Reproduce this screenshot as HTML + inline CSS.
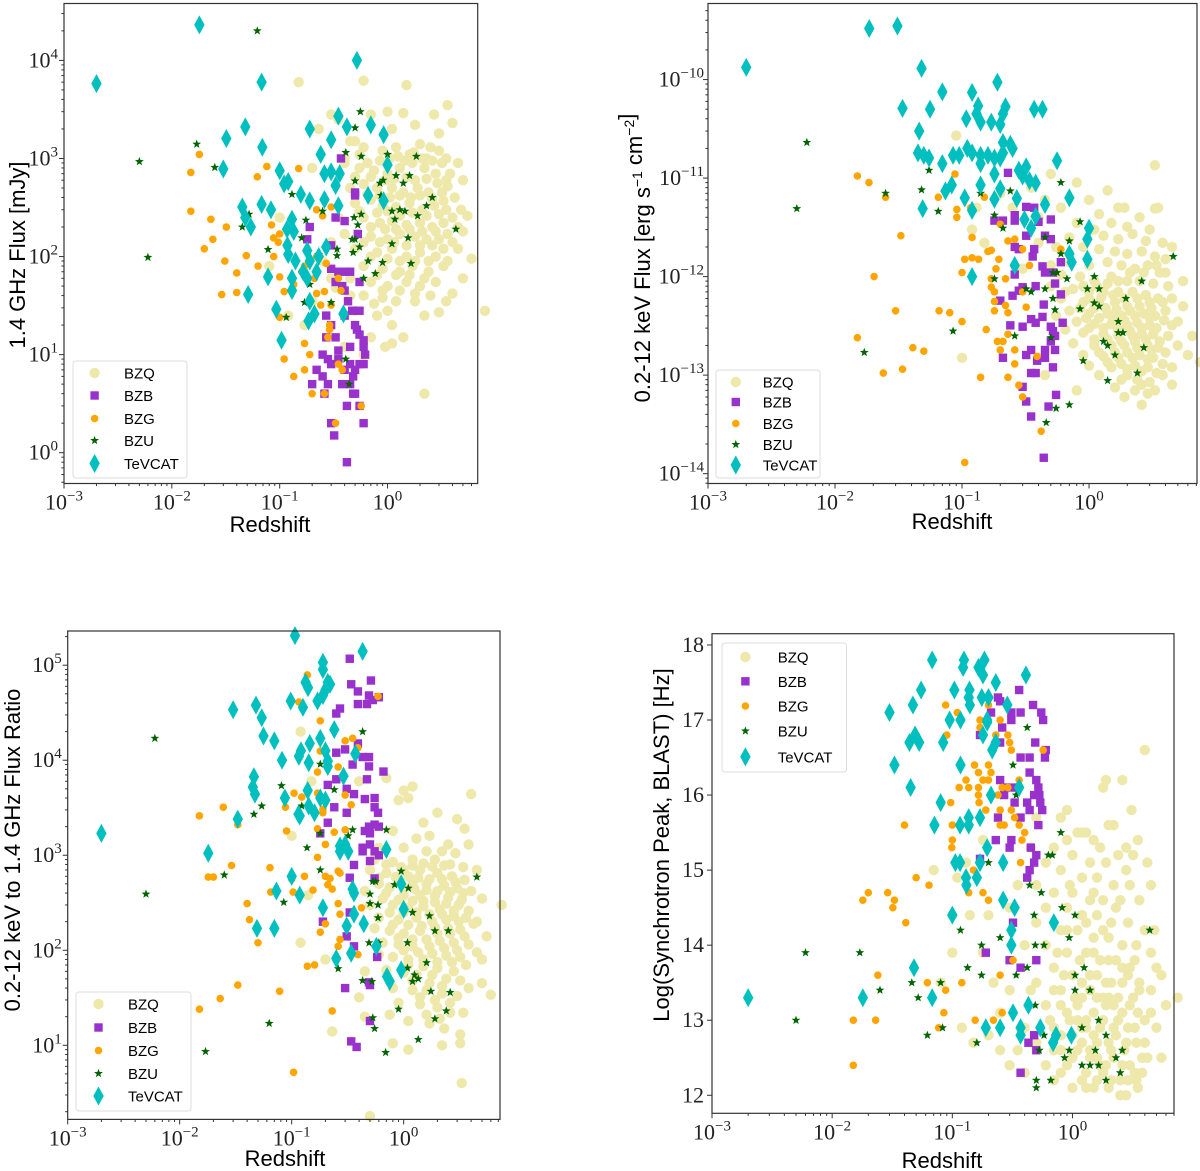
<!DOCTYPE html>
<html><head><meta charset="utf-8"><style>
html,body{margin:0;padding:0;background:#fff;}
svg{display:block;}
.tk{font-family:"Liberation Serif",serif;font-size:22px;fill:#222;}
.al{font-family:"Liberation Sans",sans-serif;font-size:22px;fill:#000;}
.lg{font-family:"Liberation Sans",sans-serif;font-size:15px;fill:#000;}
</style></head><body>
<svg id="fig" width="1200" height="1171" viewBox="0 0 1200 1171" xmlns="http://www.w3.org/2000/svg"></svg>
<script>
// ---------- DATA ----------
const p1_bzq=[[0.3,2800],[0.35,2500],[0.5,1500],[0.6,6200],[0.15,6000],[1.5,5600],[3.6,3500],[2.7,2800],[1.4,2900],[0.7,2800],[1.1,2000],[1.8,2200],[3.0,1800],[4.0,2300],[0.45,1500],[0.6,1300],[0.9,1200],[1.2,1300],[1.6,1100],[2.0,1400],[2.5,1300],[3.0,1200],[3.5,1000],[4.5,900],[0.4,900],[0.55,800],[0.75,750],[1.0,700],[1.3,800],[1.7,900],[2.2,800],[2.8,700],[3.8,700],[5.0,600],[0.45,500],[0.6,550],[0.8,500],[1.1,500],[1.4,450],[1.9,500],[2.4,450],[3.2,450],[4.2,400],[0.5,350],[0.7,380],[0.9,330],[1.2,320],[1.6,350],[2.1,300],[2.7,330],[3.5,300],[5.5,260],[0.35,250],[0.6,250],[0.85,220],[1.1,230],[1.5,210],[2.0,220],[2.6,200],[3.3,220],[4.5,200],[0.4,170],[0.7,160],[1.0,150],[1.3,170],[1.8,160],[2.3,150],[3.0,150],[4.0,140],[0.5,120],[0.8,110],[1.1,120],[1.5,100],[2.0,110],[2.8,100],[3.6,90],[6.0,95],[0.6,80],[0.9,75],[1.3,70],[1.7,80],[2.4,70],[3.3,80],[0.45,60],[0.7,55],[1.0,50],[1.5,55],[2.0,50],[2.8,55],[4.0,42],[0.6,40],[0.9,38],[1.2,35],[1.8,35],[3.0,27],[8.0,28],[0.5,28],[0.8,25],[1.1,20],[1.4,15],[2.2,25],[0.7,15],[0.95,12],[1.1,13],[0.6,10],[2.2,4],[0.1,250],[0.3,140],[0.25,90],[0.3,60],[0.33,48],[0.12,25],[0.17,20],[0.08,80],[0.2,800],[0.23,2000],[0.4,1000],[2.3,1000],[3.5,600],[4.8,300],[1.0,3000],[0.2,35],[0.35,9],[0.4,12],
[0.55,1100],[0.65,900],[0.85,950],[1.05,1000],[1.25,1050],[1.45,950],[1.75,1150],[2.1,1000],[2.6,950],[3.2,900],[0.5,650],[0.7,650],[0.95,600],[1.15,620],[1.5,640],[1.8,600],[2.3,620],[2.9,560],[3.6,520],[0.65,430],[0.85,420],[1.05,400],[1.3,420],[1.65,400],[2.0,420],[2.6,390],[3.3,370],[0.55,290],[0.8,280],[1.0,290],[1.3,260],[1.7,280],[2.3,260],[3.0,270],[4.0,250],[0.7,200],[0.95,190],[1.2,190],[1.6,190],[2.1,180],[2.8,180],[3.6,170],[0.6,140],[0.85,140],[1.15,140],[1.5,130],[2.0,130],[2.6,130],[3.3,120],[0.7,100],[1.0,95],[1.3,90],[1.8,90],[2.4,90],[0.8,65],[1.2,65],[1.6,65],[2.2,60],[0.9,45],[1.3,45],[1.8,42],[2.5,40],[3.5,35],[0.75,33],[1.0,28],[5.0,60],[4.5,120],[5.0,180],[0.45,40],[0.4,25]];
const p1_bzb=[[0.37,1000],[0.5,450],[0.5,420],[0.33,250],[0.4,230],[0.53,170],[0.19,200],[0.18,150],[0.3,130],[0.3,75],[0.35,70],[0.4,70],[0.45,70],[0.33,55],[0.38,50],[0.4,45],[0.55,55],[0.43,35],[0.47,28],[0.55,28],[0.27,25],[0.4,25],[0.5,20],[0.52,18],[0.3,20],[0.27,15],[0.33,15],[0.55,16],[0.6,14],[0.35,11],[0.45,12],[0.6,12],[0.25,10],[0.28,9],[0.3,8],[0.4,7],[0.45,8],[0.55,8],[0.6,8],[0.5,7],[0.22,7],[0.25,6],[0.2,5],[0.28,5],[0.38,5],[0.45,5],[0.48,4],[0.26,4],[0.5,4],[0.42,3],[0.55,3],[0.3,2],[0.6,2],[0.32,1.5],[0.42,0.8],[0.48,6],[0.35,9],[0.62,10]];
const p1_bzg=[[0.018,1100],[0.015,720],[0.076,830],[0.062,650],[0.15,790],[0.015,290],[0.023,240],[0.032,200],[0.024,150],[0.02,120],[0.031,90],[0.04,68],[0.029,41],[0.04,43],[0.049,102],[0.063,80],[0.084,210],[0.088,155],[0.097,140],[0.088,100],[0.10,170],[0.10,62],[0.11,44],[0.13,44],[0.135,52],[0.16,70],[0.17,80],[0.22,300],[0.25,260],[0.3,320],[0.22,100],[0.27,85],[0.21,60],[0.22,42],[0.26,44],[0.24,32],[0.3,32],[0.35,60],[0.37,45],[0.29,20],[0.29,18],[0.28,15],[0.17,13],[0.1,24],[0.19,10],[0.11,9],[0.17,7],[0.135,6],[0.2,4],[0.26,4],[0.33,2],[0.35,8],[0.38,7],[0.57,3]];
const p1_bzu=[[0.062,20000],[0.005,930],[0.006,98],[0.017,1400],[0.025,810],[0.052,270],[0.045,200],[0.078,118],[0.13,430],[0.175,235],[0.16,155],[0.25,290],[0.34,119],[0.34,102],[0.19,52],[0.17,34],[0.115,24],[0.3,34],[0.23,105],[0.41,1150],[0.57,1050],[0.56,3000],[0.5,2050],[0.5,590],[0.49,250],[0.57,270],[0.53,210],[0.47,150],[0.5,150],[0.55,125],[0.48,110],[0.66,90],[0.6,60],[0.77,67],[0.9,87],[0.91,600],[0.85,560],[0.87,420],[1.0,1100],[1.1,290],[1.2,670],[1.4,560],[1.6,670],[1.85,1050],[1.3,300],[1.45,290],[1.17,240],[1.9,260],[2.3,330],[2.6,400],[1.1,135],[1.55,155],[1.65,85],[4.3,190],[0.41,9],[0.44,5]];
const p1_tev=[[0.002,5800],[0.018,23000],[0.52,10000],[0.068,6000],[0.032,1600],[0.048,2100],[0.069,1300],[0.030,780],[0.19,2000],[0.35,2700],[0.42,2100],[0.70,2200],[0.92,1750],[0.30,1550],[0.24,1100],[1.0,860],[0.1,750],[0.11,550],[0.12,580],[0.157,430],[0.19,370],[0.26,380],[0.26,700],[0.30,730],[0.36,700],[0.33,530],[0.35,330],[0.66,420],[0.92,370],[0.045,320],[0.048,250],[0.054,200],[0.068,340],[0.083,300],[0.13,240],[0.117,190],[0.135,180],[0.118,130],[0.12,105],[0.14,90],[0.18,115],[0.19,90],[0.23,100],[0.27,125],[0.13,60],[0.165,70],[0.18,60],[0.22,70],[0.078,62],[0.051,41],[0.093,29],[0.13,45],[0.19,35],[0.185,22],[0.21,26],[0.39,26],[0.104,14]];

const p2_bzq=[[0.09,2.7e-11],[3.3,1.35e-11],[0.8,9e-12],[0.5,1.1e-11],[1.4,7.5e-12],[1.0,6e-12],[1.7,5e-12],[1.9,5e-12],[3.5,5e-12],[3.3,4.9e-12],[0.6,5e-12],[1.2,4.3e-12],[0.4,4e-12],[0.8,3.5e-12],[1.1,3e-12],[1.5,3.5e-12],[2.0,3.2e-12],[2.5,4e-12],[3.0,3e-12],[0.7,2.5e-12],[1.3,2.6e-12],[1.7,2.4e-12],[2.2,2.7e-12],[2.8,2.3e-12],[3.8,2.2e-12],[4.5,2e-12],[0.55,2e-12],[0.9,2e-12],[1.2,1.9e-12],[1.6,1.8e-12],[2.0,1.7e-12],[2.6,1.8e-12],[3.3,1.6e-12],[4.0,1.5e-12],[0.7,1.4e-12],[1.0,1.3e-12],[1.4,1.4e-12],[1.8,1.3e-12],[2.3,1.2e-12],[2.9,1.3e-12],[3.6,1.1e-12],[0.6,1.05e-12],[0.85,1e-12],[1.1,9e-13],[1.5,1e-12],[2.0,9e-13],[2.5,9e-13],[3.2,8.5e-13],[4.2,8e-13],[0.5,8e-13],[0.75,7.5e-13],[1.0,7e-13],[1.3,7e-13],[1.7,7e-13],[2.2,7e-13],[2.8,6.5e-13],[3.5,6e-13],[0.6,6e-13],[0.9,5.5e-13],[1.2,5.5e-13],[1.6,5.5e-13],[2.0,5e-13],[2.5,5e-13],[3.1,4.8e-13],[4.0,4.5e-13],[0.7,4.5e-13],[1.0,4.2e-13],[1.4,4.2e-13],[1.8,4e-13],[2.3,4e-13],[3.0,3.8e-13],[0.8,3.5e-13],[1.1,3.3e-13],[1.5,3.3e-13],[2.0,3.2e-13],[2.6,3e-13],[3.4,3e-13],[4.5,3.2e-13],[0.65,2.9e-13],[0.9,2.7e-13],[1.3,2.6e-13],[1.7,2.5e-13],[2.2,2.5e-13],[2.8,2.3e-13],[3.6,2.2e-13],[0.75,2.1e-13],[1.1,2e-13],[1.5,2e-13],[1.9,2e-13],[2.4,1.9e-13],[3.1,1.8e-13],[4.0,1.7e-13],[5.0,2e-13],[0.9,1.6e-13],[1.3,1.55e-13],[1.7,1.5e-13],[2.2,1.5e-13],[2.9,1.45e-13],[3.8,1.3e-13],[6.0,1.6e-13],[7.5,1.35e-13],[1.0,1.25e-13],[1.5,1.2e-13],[2.0,1.15e-13],[2.6,1.1e-13],[3.4,1.05e-13],[1.2,1e-13],[1.8,9e-14],[2.4,9e-14],[3.0,8.5e-14],[4.5,8e-14],[1.6,7.5e-14],[2.3,7e-14],[2.9,6.5e-14],[0.8,7e-14],[2.6,5e-14],[1.9,6e-14],[0.12,3e-12],[0.15,2.2e-12],[0.2,7e-12],[0.25,5e-12],[0.3,1.2e-11],[0.35,8e-12],[0.45,6e-12],[0.13,5e-12],[0.1,1.5e-13],[0.3,1.2e-12],[0.4,2.2e-12],[0.5,1.3e-12],[0.55,4e-13],[0.45,1e-13],[5.5,5e-13],[6.5,2.5e-13],
[0.9,8e-13],[1.15,8e-13],[1.4,8.5e-13],[1.7,9e-13],[2.1,1.1e-12],[2.7,1.1e-12],[3.4,1.3e-12],[1.0,6e-13],[1.25,6.2e-13],[1.55,6.5e-13],[1.9,6e-13],[2.4,6e-13],[3.0,5.5e-13],[3.8,5.5e-13],[0.85,4.8e-13],[1.1,4.8e-13],[1.35,4.8e-13],[1.65,4.6e-13],[2.1,4.5e-13],[2.7,4.2e-13],[3.3,4e-13],[0.95,3.8e-13],[1.2,3.8e-13],[1.55,3.7e-13],[1.9,3.6e-13],[2.4,3.4e-13],[3.0,3.2e-13],[3.9,3.6e-13],[1.0,3e-13],[1.3,3e-13],[1.7,2.9e-13],[2.1,2.8e-13],[2.6,2.6e-13],[3.2,2.6e-13],[4.2,2.5e-13],[1.1,2.3e-13],[1.4,2.3e-13],[1.8,2.2e-13],[2.3,2.2e-13],[2.9,2e-13],[3.5,1.9e-13],[1.2,1.7e-13],[1.6,1.7e-13],[2.0,1.7e-13],[2.5,1.6e-13],[3.2,1.5e-13],[1.4,1.35e-13],[1.8,1.3e-13],[2.3,1.25e-13],[2.9,1.2e-13],[3.8,1e-13],[2.0,1e-13],[2.6,8e-14],[3.3,7e-14],[4.5,1.2e-13],[5.0,3.5e-13],[4.5,6e-13],[5.5,9e-13],[4.0,1.1e-12],[0.7,1.7e-12],[0.65,7e-13]];
const p2_bzb=[[0.23,1.13e-11],[0.32,5.1e-12],[0.37,5e-12],[0.18,3.7e-12],[0.21,3.7e-12],[0.26,4.2e-12],[0.26,3.7e-12],[0.4,3.6e-12],[0.5,3.8e-12],[0.32,2.6e-12],[0.45,2.6e-12],[0.5,2.4e-12],[0.26,2e-12],[0.28,1.9e-12],[0.37,1.9e-12],[0.36,1.6e-12],[0.6,1.4e-12],[0.43,1.27e-12],[0.45,1.1e-12],[0.52,1.1e-12],[0.26,1.05e-12],[0.54,8.5e-13],[0.38,8e-13],[0.3,7.8e-13],[0.28,7.2e-13],[0.25,6.4e-13],[0.2,5.7e-13],[0.6,6.6e-13],[0.44,5.2e-13],[0.43,3.9e-13],[0.35,3.7e-13],[0.24,3.2e-13],[0.3,3.1e-13],[0.38,3.4e-13],[0.62,3.4e-13],[0.5,3.1e-13],[0.52,2.8e-13],[0.54,2.5e-13],[0.5,2.2e-13],[0.35,1.8e-13],[0.45,1.8e-13],[0.54,1.8e-13],[0.32,1.6e-13],[0.21,1.5e-13],[0.39,1.4e-13],[0.45,1.5e-13],[0.52,1.2e-13],[0.35,1.05e-13],[0.38,1.05e-13],[0.3,7.6e-14],[0.32,5.4e-14],[0.55,6.3e-14],[0.48,4.8e-14],[0.35,3.8e-14],[0.44,1.45e-14]];
const p2_bzg=[[0.015,1.05e-11],[0.0185,9e-12],[0.025,6.4e-12],[0.033,2.6e-12],[0.0203,1e-12],[0.015,2.4e-13],[0.03,4.5e-13],[0.041,1.9e-13],[0.05,1.75e-13],[0.024,1.05e-13],[0.034,1.15e-13],[0.066,4.5e-13],[0.08,4.3e-13],[0.1,3.5e-13],[0.065,6.4e-12],[0.088,1.1e-11],[0.091,4.8e-12],[0.091,4e-12],[0.117,5e-12],[0.12,2.5e-12],[0.105,1.5e-12],[0.12,1.55e-12],[0.135,1.5e-12],[0.1,1.1e-12],[0.16,1.8e-12],[0.17,1.85e-12],[0.195,1.5e-12],[0.185,1.2e-12],[0.17,9.5e-13],[0.17,7.8e-13],[0.18,7e-13],[0.18,5.6e-13],[0.18,4.5e-13],[0.19,2.2e-13],[0.21,2.2e-13],[0.2,1.8e-13],[0.22,9.5e-13],[0.22,5.1e-13],[0.23,4.3e-13],[0.23,2.6e-13],[0.26,1.8e-13],[0.26,1.3e-13],[0.23,9.5e-14],[0.28,7.9e-14],[0.3,6e-14],[0.2,3.4e-12],[0.23,2.3e-12],[0.26,2.4e-12],[0.3,1.9e-12],[0.3,7e-13],[0.32,4.9e-13],[0.34,1.3e-12],[0.39,1.55e-13],[0.42,2.7e-14],[0.105,1.3e-14],[0.14,9.5e-14],[0.155,2.9e-13],[0.6,1.9e-12],[0.15,6.4e-12]];
const p2_bzu=[[0.005,4.9e-12],[0.006,2.3e-11],[0.025,7e-12],[0.017,1.7e-13],[0.055,1.2e-11],[0.048,7.6e-12],[0.065,4.6e-12],[0.085,2.8e-13],[0.14,7e-12],[0.18,4.2e-12],[0.21,3.1e-12],[0.24,7.4e-12],[0.18,9.5e-13],[0.26,2.5e-13],[0.32,7.5e-13],[0.35,7e-13],[0.45,7.5e-13],[0.45,2.5e-12],[0.52,1.1e-12],[0.56,1.1e-12],[0.6,9e-12],[0.6,1.7e-12],[0.67,9.5e-13],[0.7,2.3e-12],[0.85,3.6e-12],[0.52,6e-13],[0.54,4.6e-13],[0.5,2.4e-13],[0.85,4.7e-13],[0.9,1.4e-13],[0.97,7.5e-13],[1.1,1e-12],[1.2,7.5e-13],[1.1,5.4e-13],[1.2,5e-13],[1.3,2.2e-13],[1.4,2e-13],[1.6,1.6e-13],[1.7,3.5e-13],[1.7,2.7e-13],[1.85,2.7e-13],[1.95,6e-13],[2.6,9e-13],[2.7,1.9e-13],[2.4,1.05e-13],[1.4,8.8e-14],[4.6,1.6e-12],[0.7,5e-14],[0.55,4.6e-14],[0.46,3.3e-14]];
const p2_tev=[[0.002,1.33e-10],[0.0186,3.3e-10],[0.031,3.5e-10],[0.048,1.3e-10],[0.034,5.1e-11],[0.056,5e-11],[0.07,7.5e-11],[0.046,3e-11],[0.12,7.4e-11],[0.19,9.4e-11],[0.108,4e-11],[0.134,5.4e-11],[0.13,4.5e-11],[0.14,3.7e-11],[0.17,3.7e-11],[0.2,3.5e-11],[0.21,4.5e-11],[0.22,5.3e-11],[0.37,5e-11],[0.43,5e-11],[0.045,1.8e-11],[0.05,1.7e-11],[0.055,1.6e-11],[0.085,1.7e-11],[0.095,1.7e-11],[0.11,2e-11],[0.12,1.8e-11],[0.14,1.7e-11],[0.16,1.7e-11],[0.18,1.6e-11],[0.2,1.6e-11],[0.21,1.8e-11],[0.21,2.3e-11],[0.24,2.2e-11],[0.25,2e-11],[0.07,1.4e-11],[0.14,1.4e-11],[0.18,1.1e-11],[0.28,1.2e-11],[0.32,1.3e-11],[0.56,1.5e-11],[0.3,1.05e-11],[0.34,9.4e-12],[0.38,8.9e-12],[0.083,8.5e-12],[0.074,7.4e-12],[0.14,8.5e-12],[0.2,7.8e-12],[0.105,6.3e-12],[0.18,6.1e-12],[0.27,6.2e-12],[0.7,6.3e-12],[0.049,4.9e-12],[0.12,4.7e-12],[0.45,5.4e-12],[0.31,3.8e-12],[0.38,4.1e-12],[0.35,3.1e-12],[1.0,3.1e-12],[0.97,2.4e-12],[0.7,1.7e-12],[0.73,1.4e-12],[0.97,1.5e-12],[0.26,1.3e-12],[0.12,1e-12]];

const p3_bzq=[[0.12,2e4],[0.15,6e3],[0.1,1.6e3],[0.12,120],[0.2,80],[0.23,14],[0.14,380],[0.4,6e3],[0.7,6.5e3],[1.2,5.3e3],[1.0,4.8e3],[1.1,4e3],[0.9,3.8e3],[4.0,4.4e3],[2.0,2.8e3],[3.0,2.4e3],[1.5,2.2e3],[3.5,1.9e3],[0.8,1.8e3],[1.3,1.5e3],[1.7,1.6e3],[2.5,1.3e3],[3.8,1.3e3],[0.6,1.2e3],[1.0,1.2e3],[1.6,1.1e3],[2.2,1.1e3],[2.9,1.05e3],[0.55,900],[0.8,850],[1.2,900],[1.9,900],[2.6,800],[3.4,750],[4.5,700],[0.5,700],[0.7,650],[1.0,700],[1.4,700],[2.0,650],[2.7,600],[3.5,550],[0.6,500],[0.9,520],[1.2,500],[1.6,500],[2.3,480],[3.0,450],[4.0,420],[0.45,420],[0.7,400],[1.0,380],[1.4,380],[1.9,370],[2.5,360],[3.3,340],[5.0,350],[0.5,300],[0.8,300],[1.1,280],[1.5,290],[2.1,270],[2.8,260],[3.8,260],[0.6,220],[0.9,210],[1.3,220],[1.8,200],[2.4,210],[3.1,200],[4.2,190],[0.55,170],[0.75,160],[1.0,150],[1.4,160],[2.0,150],[2.6,150],[3.5,140],[5.5,140],[0.65,120],[0.9,115],[1.2,110],[1.7,110],[2.3,105],[3.0,100],[4.5,95],[0.6,90],[0.8,85],[1.1,80],[1.5,80],[2.0,75],[2.7,75],[3.6,70],[0.7,62],[1.0,58],[1.3,55],[1.8,55],[2.4,50],[3.2,48],[5.0,45],[0.8,40],[1.2,38],[1.6,38],[2.2,35],[3.0,33],[6.0,34],[0.9,28],[1.4,27],[2.0,25],[2.6,22],[3.4,22],[0.75,21],[1.1,18],[1.7,17],[2.3,15],[3.2,13],[0.8,10.5],[1.1,9],[2.2,10],[3.2,10.5],[3.3,4],[0.5,1.8],[7.5,300],[0.45,60],[0.4,32],[0.45,20],
[0.7,800],[0.95,750],[1.2,780],[1.5,820],[1.8,760],[2.3,780],[0.6,580],[0.85,590],[1.1,600],[1.35,580],[1.7,560],[2.2,560],[2.9,520],[0.75,460],[1.0,450],[1.25,440],[1.6,430],[2.0,420],[2.6,410],[3.4,400],[0.65,350],[0.9,340],[1.2,330],[1.5,330],[1.9,320],[2.4,310],[3.1,300],[0.75,250],[1.0,250],[1.3,250],[1.7,240],[2.2,240],[2.8,230],[3.6,220],[0.8,185],[1.1,185],[1.45,180],[1.9,175],[2.5,170],[3.2,165],[0.9,135],[1.2,130],[1.6,130],[2.1,125],[2.8,120],[3.8,115],[1.0,100],[1.35,95],[1.8,92],[2.4,88],[3.2,85],[1.1,70],[1.5,68],[2.0,65],[2.8,60],[1.2,48],[1.7,45],[2.2,42],[1.4,32],[1.9,30],[2.6,28],[1.6,21],[2.1,19],[3.8,40],[4.5,200],[5.0,80]];
const p3_bzb=[[0.33,1.17e5],[0.51,6.9e4],[0.34,6.3e4],[0.39,5.3e4],[0.49,4.8e4],[0.6,4.6e4],[0.53,4.3e4],[0.39,3.9e4],[0.47,3.9e4],[0.27,3.5e4],[0.25,3.1e4],[0.39,1.5e4],[0.25,1.2e4],[0.3,1.3e4],[0.43,1.08e4],[0.49,1.08e4],[0.35,9e3],[0.49,8.6e3],[0.66,7.6e3],[0.25,6.3e3],[0.47,6.3e3],[0.21,5.5e3],[0.31,5e3],[0.36,4.4e3],[0.45,3.9e3],[0.55,4e3],[0.24,3.2e3],[0.31,2.8e3],[0.55,3.2e3],[0.59,2.8e3],[0.21,2.2e3],[0.49,2e3],[0.55,2.1e3],[0.6,2e3],[0.45,1.8e3],[0.5,1.7e3],[0.18,1.7e3],[0.43,1.2e3],[0.5,1.3e3],[0.43,1.1e3],[0.55,1.1e3],[0.6,1e3],[0.5,870],[0.36,790],[0.33,580],[0.55,570],[0.33,250],[0.19,200],[0.31,140],[0.36,110],[0.58,85],[0.3,40],[0.49,46],[0.5,43],[0.5,18],[0.34,11],[0.38,9.6]];
const p3_bzg=[[0.138,7.9e4],[0.116,4.1e4],[0.59,4.7e4],[0.18,2.6e4],[0.3,1.6e4],[0.35,1.7e4],[0.39,1.35e4],[0.18,1.25e4],[0.26,8.5e3],[0.17,7.5e3],[0.105,4.5e3],[0.17,4.5e3],[0.123,4.1e3],[0.088,3.2e3],[0.19,3.05e3],[0.19,2.8e3],[0.17,1.9e3],[0.24,1.75e3],[0.3,1.85e3],[0.34,3.4e3],[0.3,4.3e3],[0.0245,3.2e3],[0.015,2.6e3],[0.033,2.1e3],[0.09,1.8e3],[0.2,1.3e3],[0.17,950],[0.029,780],[0.018,590],[0.02,590],[0.064,740],[0.13,600],[0.1,560],[0.2,600],[0.26,680],[0.27,650],[0.22,570],[0.21,490],[0.155,430],[0.23,440],[0.065,410],[0.103,410],[0.36,380],[0.04,310],[0.26,310],[0.42,280],[0.27,240],[0.2,190],[0.042,210],[0.05,120],[0.18,155],[0.26,110],[0.27,130],[0.39,90],[0.138,68],[0.16,70],[0.033,43],[0.078,37],[0.023,31],[0.015,24],[0.23,23],[0.104,5.2]];
const p3_bzu=[[0.006,1.7e4],[0.005,390],[0.017,8.6],[0.063,17],[0.025,620],[0.046,2.7e3],[0.054,3.3e3],[0.081,5.4e3],[0.123,3.3e3],[0.085,320],[0.137,1.2e3],[0.18,9.1e3],[0.24,4.9e3],[0.18,1.7e3],[0.18,700],[0.32,1.6e3],[0.35,1.85e3],[0.43,2e4],[0.26,64],[0.43,48],[0.52,47],[0.7,1.85e3],[0.53,530],[0.56,530],[0.5,390],[0.5,310],[0.59,300],[0.59,220],[0.83,490],[0.95,680],[1.1,450],[1.2,250],[1.7,230],[1.08,120],[0.49,120],[0.6,120],[1.9,160],[2.5,160],[1.6,74],[1.08,65],[1.25,55],[1.35,50],[1.2,47],[1.75,37],[2.6,36],[0.9,24],[2.4,23],[1.9,19],[0.53,19.5],[0.55,15],[1.35,11.5],[0.69,8.4],[4.5,590]];
const p3_tev=[[0.107,2.05e5],[0.43,1.4e5],[0.19,1.07e5],[0.19,9e4],[0.21,6.6e4],[0.2,5.5e4],[0.19,4.8e4],[0.22,6.3e4],[0.133,6.6e4],[0.14,5.8e4],[0.17,4.2e4],[0.098,4.2e4],[0.126,3.6e4],[0.048,3.8e4],[0.030,3.4e4],[0.054,2.8e4],[0.24,2.1e4],[0.056,1.8e4],[0.07,1.6e4],[0.145,1.5e4],[0.18,1.7e4],[0.121,1.26e4],[0.116,1.1e4],[0.2,1.26e4],[0.37,1.17e4],[0.082,1e4],[0.142,9.4e3],[0.21,9.8e3],[0.21,8.6e3],[0.29,6.8e3],[0.046,6.7e3],[0.045,5.2e3],[0.047,4.4e3],[0.139,4.8e3],[0.087,4e3],[0.18,4e3],[0.2,3.8e3],[0.142,3.3e3],[0.115,2.7e3],[0.118,2.6e3],[0.16,2.8e3],[0.033,2.4e3],[0.018,1.05e3],[0.002,1.7e3],[0.27,1.25e3],[0.27,1.1e3],[0.3,1.3e3],[0.32,1.1e3],[0.7,1.15e3],[0.1,600],[0.073,420],[0.118,380],[0.35,440],[0.36,400],[0.19,280],[0.049,170],[0.07,170],[1.0,270],[0.95,500],[0.31,180],[0.36,240],[0.44,190],[0.25,82],[0.34,93],[0.57,110],[0.95,62],[0.71,53],[0.75,47]];

const p4_bzq=[[4.0,16.6],[1.9,16.2],[2.6,16.2],[1.8,16.1],[3.1,15.8],[0.8,15.7],[2.2,15.6],[2.0,15.6],[1.1,15.5],[1.3,15.5],[1.5,15.4],[0.9,15.4],[0.7,15.3],[1.7,15.3],[2.8,15.3],[3.5,15.4],[0.45,15.3],[1.0,15.2],[2.4,15.2],[3.2,15.2],[4.2,15.1],[0.6,15.1],[1.4,15.1],[1.9,15.1],[2.8,15.0],[0.8,15.0],[1.2,14.9],[1.6,14.9],[2.2,14.8],[3.0,14.8],[4.5,14.8],[0.5,14.8],[0.7,14.7],[1.0,14.7],[1.4,14.6],[1.8,14.6],[2.5,14.6],[3.6,14.6],[0.6,14.5],[0.9,14.5],[1.2,14.4],[1.6,14.4],[2.1,14.3],[2.9,14.3],[4.0,14.2],[0.5,14.3],[0.8,14.2],[1.1,14.2],[1.5,14.1],[2.0,14.1],[2.6,14.0],[3.4,14.0],[4.5,13.9],[0.6,14.0],[0.9,13.9],[1.3,13.9],[1.7,13.8],[2.3,13.8],[3.0,13.7],[0.7,13.7],[1.0,13.6],[1.4,13.6],[1.9,13.5],[2.6,13.5],[3.6,13.4],[0.5,13.5],[0.8,13.4],[1.2,13.3],[1.6,13.3],[2.2,13.2],[3.0,13.2],[4.5,13.1],[0.6,13.2],[0.9,13.1],[1.3,13.0],[1.8,13.0],[2.4,13.0],[3.3,12.9],[5.0,12.9],[0.7,12.9],[1.0,12.8],[1.5,12.8],[2.0,12.7],[2.8,12.7],[4.0,12.7],[0.5,12.7],[0.8,12.6],[1.1,12.6],[1.6,12.5],[2.2,12.5],[3.0,12.4],[3.8,12.5],[0.6,12.4],[0.9,12.4],[1.3,12.3],[1.8,12.3],[2.5,12.2],[3.4,12.2],[0.7,12.2],[1.0,12.1],[1.5,12.1],[2.8,12.0],[3.5,12.1],[0.4,12.9],[0.35,12.6],[0.3,13.4],[0.25,12.6],[0.2,12.8],[0.15,12.7],[0.12,12.9],[0.3,12.4],[0.4,12.3],[0.45,13.4],[6.0,13.2],[7.5,13.3],[5.5,12.5],[5.5,13.6],[4.8,14.2],[0.1,14.4],[0.14,14.4],[0.11,14.9],[0.13,15.1],[0.1,13.9],[0.18,13.9],[0.2,14.4],[0.08,13.5],[0.3,14.5],[0.4,14.0],[0.35,14.8],[0.5,15.7],[0.9,15.8],[1.2,15.5],[0.07,15.0],[0.22,13.5],[0.25,13.1],[0.18,15.4],[1.1,13.0],[1.4,12.6],[2.0,13.3],[1.2,12.9],[1.7,12.4],[2.3,12.8],
[0.75,13.9],[1.15,13.8],[1.5,13.9],[2.0,13.8],[2.6,13.7],[3.3,13.8],[0.85,13.6],[1.2,13.5],[1.6,13.6],[2.1,13.5],[2.9,13.6],[3.6,13.5],[0.7,13.4],[1.05,13.3],[1.4,13.4],[1.8,13.3],[2.4,13.3],[3.2,13.3],[0.8,13.2],[1.1,13.2],[1.5,13.1],[1.9,13.2],[2.6,13.1],[3.5,13.1],[0.65,13.0],[0.95,13.0],[1.3,12.9],[1.7,12.9],[2.2,12.9],[2.9,12.9],[4.0,13.0],[0.8,12.8],[1.2,12.7],[1.6,12.7],[2.1,12.6],[2.7,12.6],[3.4,12.7],[0.7,12.6],[1.0,12.5],[1.4,12.5],[1.9,12.4],[2.6,12.4],[3.3,12.3],[0.8,12.3],[1.2,12.2],[1.6,12.2],[2.1,12.2],[2.9,12.2],[3.8,12.3],[1.3,12.1],[2.0,12.1],[2.5,12.0],[4.2,12.5],[4.5,13.4],[5.0,13.7],[0.9,14.2],[1.3,14.3],[1.8,14.2],[2.3,14.5],[0.95,14.8],[1.5,14.7]];
const p4_bzb=[[0.36,17.4],[0.24,17.3],[0.25,17.25],[0.21,17.1],[0.31,17.1],[0.37,17.1],[0.47,17.2],[0.55,17.1],[0.31,17.0],[0.57,17.0],[0.26,16.9],[0.17,16.8],[0.49,16.7],[0.6,16.6],[0.25,16.7],[0.59,16.5],[0.37,16.5],[0.44,16.5],[0.25,16.2],[0.44,16.3],[0.5,16.2],[0.28,16.1],[0.52,16.1],[0.33,16.1],[0.27,16.0],[0.48,16.0],[0.53,16.0],[0.33,15.9],[0.42,15.9],[0.54,15.9],[0.44,15.8],[0.56,15.8],[0.24,15.7],[0.37,15.7],[0.52,15.6],[0.23,15.4],[0.31,15.4],[0.3,15.3],[0.45,15.3],[0.5,15.2],[0.48,15.1],[0.44,15.0],[0.42,14.9],[0.32,14.3],[0.19,13.9],[0.3,13.8],[0.37,13.7],[0.5,13.8],[0.48,12.8],[0.43,12.7],[0.5,12.6],[0.37,12.3],[0.17,15.15]];
const p4_bzg=[[0.015,13.0],[0.015,12.4],[0.023,13.0],[0.024,13.6],[0.018,14.6],[0.02,14.7],[0.029,14.7],[0.033,14.6],[0.032,14.5],[0.041,14.3],[0.04,15.6],[0.05,14.9],[0.064,14.8],[0.062,13.5],[0.077,12.9],[0.085,13.1],[0.088,13.4],[0.12,13.5],[0.088,17.2],[0.09,16.8],[0.097,15.9],[0.1,15.6],[0.1,15.4],[0.099,15.3],[0.11,17.1],[0.114,16.1],[0.13,16.2],[0.137,16.1],[0.15,15.0],[0.137,14.7],[0.153,16.4],[0.165,16.3],[0.165,16.1],[0.165,16.0],[0.167,15.9],[0.17,16.9],[0.17,17.0],[0.18,14.7],[0.19,15.8],[0.18,16.2],[0.2,16.4],[0.2,16.2],[0.21,16.3],[0.2,14.6],[0.2,17.2],[0.23,16.8],[0.24,16.0],[0.25,15.6],[0.25,17.0],[0.25,15.8],[0.26,16.1],[0.27,15.6],[0.29,16.8],[0.3,16.7],[0.31,16.6],[0.29,16.1],[0.31,15.8],[0.33,15.7],[0.36,15.6],[0.36,16.2],[0.38,15.4],[0.4,15.5],[0.37,15.1],[0.57,16.6],[0.155,13.0],[0.22,13.0],[0.26,13.1],[0.25,13.6],[0.32,13.8]];
const p4_bzu=[[0.005,13.0],[0.006,13.9],[0.017,13.9],[0.025,13.4],[0.046,13.5],[0.052,13.3],[0.062,12.8],[0.08,13.5],[0.083,12.9],[0.117,14.2],[0.134,13.7],[0.16,12.7],[0.175,14.0],[0.175,13.6],[0.2,15.1],[0.25,14.1],[0.34,13.6],[0.32,16.4],[0.34,16.0],[0.42,16.9],[0.42,13.7],[0.44,14.8],[0.48,14.4],[0.49,14.0],[0.58,14.0],[0.55,14.7],[0.63,15.2],[0.68,15.2],[0.8,15.5],[0.82,14.5],[0.94,14.1],[1.05,14.4],[1.05,13.6],[1.05,13.4],[1.25,13.7],[1.4,13.4],[1.65,13.0],[1.9,12.8],[1.55,12.6],[1.2,12.9],[0.94,12.6],[0.86,12.5],[1.2,12.4],[1.4,12.4],[1.65,12.4],[2.3,12.5],[2.6,12.6],[2.5,12.3],[1.9,12.2],[0.66,12.2],[0.5,12.2],[0.5,12.1],[0.58,12.8],[0.53,12.6],[0.49,13.2],[4.4,14.2]];
const p4_tev=[[0.002,13.3],[0.018,13.3],[0.048,13.7],[0.068,13.3],[0.03,17.1],[0.033,16.4],[0.045,16.1],[0.044,16.7],[0.049,16.8],[0.053,16.7],[0.047,17.2],[0.055,17.4],[0.068,17.8],[0.084,16.7],[0.08,15.9],[0.071,15.6],[0.095,17.0],[0.104,17.4],[0.117,17.0],[0.123,17.7],[0.125,17.8],[0.137,17.3],[0.139,17.4],[0.14,17.2],[0.117,16.4],[0.116,15.6],[0.137,15.7],[0.137,15.6],[0.106,15.1],[0.116,15.1],[0.13,14.9],[0.131,14.8],[0.16,14.9],[0.1,14.4],[0.17,15.1],[0.17,15.7],[0.21,16.0],[0.195,15.3],[0.18,16.8],[0.195,17.0],[0.195,16.97],[0.176,17.3],[0.2,17.3],[0.165,17.7],[0.185,17.8],[0.18,17.6],[0.23,17.5],[0.215,16.6],[0.23,16.7],[0.287,17.2],[0.41,17.6],[0.265,15.1],[0.36,16.1],[0.265,14.6],[0.33,14.5],[0.31,14.2],[0.31,14.0],[0.7,14.3],[0.43,13.2],[0.32,13.1],[0.19,12.9],[0.25,12.9],[0.37,12.9],[0.37,12.8],[0.54,12.9],[0.69,12.7],[0.73,12.8],[0.98,12.8]];

const legendLabels=["BZQ","BZB","BZG","BZU","TeVCAT"];
const p1_yTicks=[0,1,2,3,4];
const p2_yTicks=[-14,-13,-12,-11,-10];
const p3_yTicks=[1,2,3,4,5];
const p4_yTicks=[12,13,14,15,16,17,18];
const xTickExps=[-3,-2,-1,0];

// ---------- DRAWING ----------
const NS="http://www.w3.org/2000/svg";
const svg=document.getElementById('fig');
function mk(tag,attrs,parent){const e=document.createElementNS(NS,tag);for(const k in attrs)e.setAttribute(k,attrs[k]);(parent||svg).appendChild(e);return e;}
const COL={bzq:"#eee8aa",bzb:"#9932cc",bzg:"#ffa500",bzu:"#006400",tev:"#00bfbf"};
function starPts(cx,cy,R){let s=[];for(let i=0;i<10;i++){const r=i%2?R*0.42:R;const a=-Math.PI/2+i*Math.PI/5;s.push((cx+r*Math.cos(a)).toFixed(1)+","+(cy+r*Math.sin(a)).toFixed(1));}return s.join(" ");}
function marker(kind,x,y,g){
  let e;
  if(kind==="bzq"){e=mk('circle',{cx:x,cy:y,r:5.2,fill:COL.bzq},g);}
  else if(kind==="bzb"){e=mk('rect',{x:x-4.2,y:y-4.2,width:8.4,height:8.4,fill:COL.bzb},g);}
  else if(kind==="bzg"){e=mk('circle',{cx:x,cy:y,r:3.8,fill:COL.bzg},g);}
  else if(kind==="bzu"){e=mk('polygon',{points:starPts(x,y,4.6),fill:COL.bzu},g);}
  else {const w=5.2,h=9.5;e=mk('polygon',{points:`${x},${y-h} ${x+w},${y} ${x},${y+h} ${x-w},${y}`,fill:COL.tev},g);}
  return e;
}
function drawPanel(P){
  const g=mk('g',{});
  
  
  const xS=v=>P.x0+(Math.log10(v)-P.xmin)/(P.xmax-P.xmin)*(P.x1-P.x0);
  const yS=v=>{const t=P.ylog?Math.log10(v):v;return P.y1-(t-P.ymin)/(P.ymax-P.ymin)*(P.y1-P.y0);};
  const kinds=["bzq","bzb","bzg","bzu","tev"];
  P.series.forEach((arr,si)=>{
    const sg=mk('g',{},g);
    
    
    arr.forEach(d=>{
      const m=marker(kinds[si],xS(d[0]),yS(d[1]),sg);
      
      
    });
  });
  const fr=mk('rect',{x:P.x0,y:P.y0,width:P.x1-P.x0,height:P.y1-P.y0,fill:"none",stroke:"#333","stroke-width":1.2},g);
  
  
  for(let e=-3;e<=0;e++){for(let m=1;m<10;m++){const v=m*Math.pow(10,e);const x=xS(v);if(x>P.x1+0.5)continue;
    mk('line',{x1:x,x2:x,y1:P.y1,y2:P.y1+(m===1?5:2.6),stroke:"#333","stroke-width":1},g);}}
  xTickExps.forEach(e=>{const t=mk('text',{x:xS(Math.pow(10,e)),y:P.y1+26,"text-anchor":"middle",class:"tk"},g);
    
    
    t.appendChild(document.createTextNode("10"));const s=mk('tspan',{dy:-9,"font-size":15},t);s.textContent=(e<0?"\u2212"+(-e):""+e);});
  if(P.ylog){
    for(let e=Math.floor(P.ymin);e<=Math.ceil(P.ymax);e++){for(let m=1;m<10;m++){const lv=e+Math.log10(m);if(lv<P.ymin||lv>P.ymax)continue;const y=yS(Math.pow(10,lv));
      mk('line',{x1:P.x0,x2:P.x0-(m===1?5:2.6),y1:y,y2:y,stroke:"#333","stroke-width":1},g);}}
    P.yTicks.forEach(e=>{const y=yS(Math.pow(10,e));const t=mk('text',{x:P.x0-(e<0?4:6),y:y+7,"text-anchor":"end",class:"tk"},g);
      
      
      t.appendChild(document.createTextNode("10"));const s=mk('tspan',{dy:-9,"font-size":15},t);s.textContent=(e<0?"\u2212"+(-e):""+e);});
  } else {
    P.yTicks.forEach(v=>{const y=yS(v);mk('line',{x1:P.x0,x2:P.x0-5,y1:y,y2:y,stroke:"#333","stroke-width":1},g);
      const t=mk('text',{x:P.x0-8,y:y+7,"text-anchor":"end",class:"tk"},g);t.textContent=v;
      
      });
  }
  const xl=mk('text',{x:P.xlx,y:P.xly,"text-anchor":"middle",class:"al"},g);xl.textContent="Redshift";
  
  
  const yl=mk('text',{x:0,y:0,"text-anchor":"middle",class:"al",transform:`translate(${P.ylx},${P.yly}) rotate(-90)`},g);
  
  
  P.ylab(yl);
  const L=P.leg;
  const lg=mk('g',{},g);
  
  
  mk('rect',{x:L.x,y:L.y,width:L.w,height:L.h,rx:3,fill:"#fff","fill-opacity":0.85,stroke:"#ddd","stroke-width":1},lg);
  legendLabels.forEach((lab,i)=>{const yy=L.rows[i];
    const m=marker(kinds[i],L.mx,yy,lg);
    
    
    const t=mk('text',{x:L.tx,y:yy+5.5,class:"lg"},lg);t.textContent=lab;
    
    });
}
function supLabel(el,parts){parts.forEach(p=>{if(p[1]){const s=mk('tspan',{dy:-8,"font-size":14},el);s.textContent=p[0];const b=mk('tspan',{dy:8},el);b.textContent="";}else{el.appendChild(document.createTextNode(p[0]));}});}

drawPanel({name:"panel-radio-flux",x0:64,x1:477.7,xmin:-3,xmax:0.836,y0:3.5,y1:483.5,ylog:true,ymin:-0.314,ymax:4.58,yTicks:p1_yTicks,
  series:[p1_bzq,p1_bzb,p1_bzg,p1_bzu,p1_tev],xlx:270,xly:532,ylx:25,yly:255,
  ylab:el=>{el.textContent="1.4 GHz Flux [mJy]";},
  leg:{x:73,y:361,w:114,h:117,mx:94.6,tx:124,rows:[373,395.5,418.5,440.5,463.5]}});
drawPanel({name:"panel-xray-flux",x0:708,x1:1197,xmin:-3,xmax:0.85,y0:3.5,y1:483.5,ylog:true,ymin:-14.1,ymax:-9.228,yTicks:p2_yTicks,
  series:[p2_bzq,p2_bzb,p2_bzg,p2_bzu,p2_tev],xlx:952,xly:529,ylx:650,yly:258,
  ylab:el=>{supLabel(el,[["0.2-12 keV Flux [erg s"],["\u22121",1],[" cm"],["\u22122",1],["]"]]);},
  leg:{x:716,y:370,w:104,h:108,mx:735.8,tx:762.7,rows:[382,402,423.5,444.5,465]}});
drawPanel({name:"panel-flux-ratio",x0:67.7,x1:500,xmin:-3,xmax:0.86,y0:631,y1:1119.4,ylog:true,ymin:0.22,ymax:5.36,yTicks:p3_yTicks,
  series:[p3_bzq,p3_bzb,p3_bzg,p3_bzu,p3_tev],xlx:285,xly:1166,ylx:20,yly:850,
  ylab:el=>{el.textContent="0.2-12 keV to 1.4 GHz Flux Ratio";},
  leg:{x:76,y:992,w:115,h:119,mx:98.5,tx:128,rows:[1004,1027.5,1050.5,1073.5,1096]}});
drawPanel({name:"panel-synchrotron-peak",x0:712,x1:1174,xmin:-3,xmax:0.845,y0:633.7,y1:1113.3,ylog:false,ymin:11.76,ymax:18.15,yTicks:p4_yTicks,
  series:[p4_bzq,p4_bzb,p4_bzg,p4_bzu,p4_tev],xlx:942,xly:1168,ylx:669,yly:845,
  ylab:el=>{el.textContent="Log(Synchrotron Peak, BLAST) [Hz]";},
  leg:{x:722,y:643,w:124.5,h:129,mx:745.4,tx:777.7,rows:[657,681.3,706,731,756.8]}});
</script>
</body></html>
